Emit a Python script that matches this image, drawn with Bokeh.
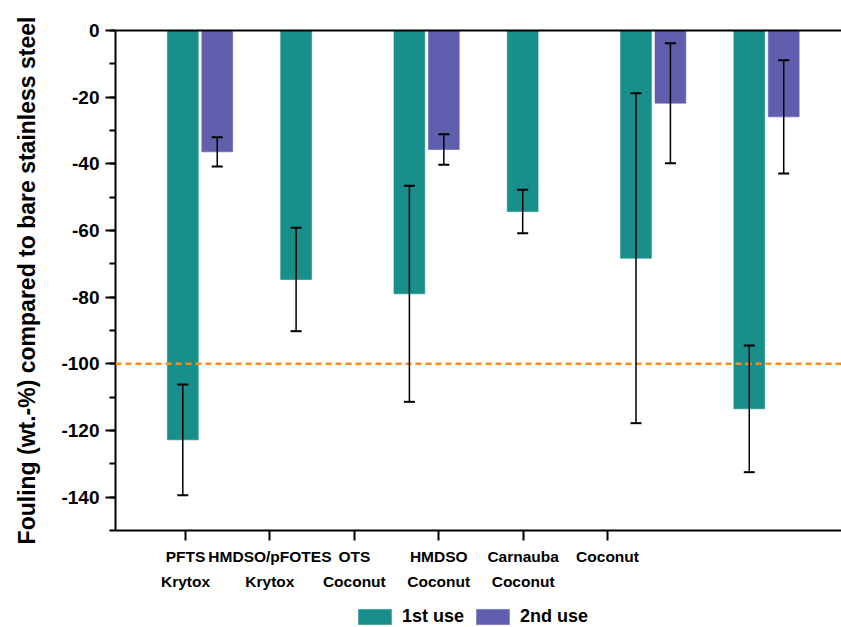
import numpy as np
from bokeh.plotting import figure
from bokeh.layouts import column
from bokeh.models import (ColumnDataSource, Whisker, TeeHead, Span, Legend, LegendItem,
                          FixedTicker, SingleIntervalTicker, LinearAxis, Range1d)
from bokeh.embed import file_html
from bokeh.resources import INLINE

# ---- data ----
categories = ["PFTS\nKrytox", "HMDSO/pFOTES\nKrytox", "OTS\nCoconut",
              "HMDSO\nCoconut", "Carnauba\nCoconut", "Coconut"]
first_use = [-122.8, -74.7, -79.0, -54.3, -68.3, -113.5]
first_err = [16.6, 15.5, 32.4, 6.5, 49.5, 19.0]
second_use = [-36.4, None, -35.7, None, -21.8, -25.9]
second_err = [4.4, None, 4.6, None, 18.0, 17.0]
reference_level = -100
y_ticks = [0, -20, -40, -60, -80, -100, -120, -140]
series_names = ["1st use", "2nd use"]

TEAL = "#188F8A"
PURPLE = "#5F5FAE"
ORANGE = "#FF8C1A"
FONT = "Liberation Sans"

n = len(categories)
groups = np.arange(1, n + 1, dtype=float)
dodge = 0.152
bar_w = 0.272

x1 = groups - dodge
y1 = np.array(first_use, dtype=float)
e1 = np.array(first_err, dtype=float)
src1 = ColumnDataSource(dict(x=x1, top=y1, upper=y1 + e1, lower=y1 - e1))

mask = [v is not None for v in second_use]
x2 = (groups + dodge)[mask]
y2 = np.array([v for v in second_use if v is not None], dtype=float)
e2 = np.array([v for v in second_err if v is not None], dtype=float)
src2 = ColumnDataSource(dict(x=x2, top=y2, upper=y2 + e2, lower=y2 - e2))

p = figure(width=841, height=600, output_backend="svg", toolbar_location=None,
           x_range=Range1d(0.254, 6.662), y_range=Range1d(-150, 0),
           min_border_left=115, min_border_top=30, min_border_bottom=70,
           min_border_right=0)
p.outline_line_color = None
p.grid.grid_line_color = None
p.background_fill_color = "white"

bar_style = [dict(fill_color=TEAL, line_color=TEAL, line_alpha=0.6),
             dict(fill_color=PURPLE, line_color=PURPLE, line_alpha=0.6)]

p.vbar(x="x", top="top", bottom=0, width=bar_w, source=src1, **bar_style[0])
p.vbar(x="x", top="top", bottom=0, width=bar_w, source=src2, **bar_style[1])

for src in (src1, src2):
    w = Whisker(base="x", upper="upper", lower="lower", source=src,
                line_color="black", line_width=1.5, level="overlay",
                upper_head=TeeHead(size=11, line_width=2, line_color="black"),
                lower_head=TeeHead(size=11, line_width=2, line_color="black"))
    p.add_layout(w)

p.add_layout(Span(location=reference_level, dimension="width", line_color=ORANGE,
                  line_width=2.5, line_dash="6 4"))

# y axis
ya = p.yaxis[0]
ya.ticker = SingleIntervalTicker(interval=20, num_minor_ticks=2)
ya.major_label_overrides = {t: str(t) for t in y_ticks}
ya.axis_label = "Fouling (wt.-%) compared to bare stainless steel"
ya.axis_label_text_font = FONT
ya.axis_label_text_font_style = "bold"
ya.axis_label_text_font_size = "23px"
ya.axis_label_text_color = "black"
ya.axis_label_standoff = 18
ya.major_label_text_font = FONT
ya.major_label_text_font_style = "bold"
ya.major_label_text_font_size = "19px"
ya.major_label_text_color = "black"
ya.major_label_standoff = 6
ya.major_tick_out = 10
ya.major_tick_in = 0
ya.minor_tick_out = 6
ya.minor_tick_in = 0
ya.axis_line_width = 2
ya.major_tick_line_width = 2
ya.minor_tick_line_width = 2

# x axis: labels at evenly spaced ticks
tick_start, tick_step = 0.872, 0.745
tick_pos = [tick_start + k * tick_step for k in range(n)]
xa = p.xaxis[0]
xa.ticker = FixedTicker(ticks=tick_pos, minor_ticks=[])
xa.major_label_overrides = {t: c for t, c in zip(tick_pos, categories)}
xa.major_label_text_font = FONT
xa.major_label_text_font_style = "bold"
xa.major_label_text_font_size = "15.5px"
xa.major_label_text_color = "black"
xa.major_label_text_line_height = 1.5
xa.major_label_standoff = 7
xa.major_tick_out = 10
xa.major_tick_in = 0
xa.axis_line_width = 2
xa.major_tick_line_width = 2

top_axis = LinearAxis(major_tick_out=0, major_tick_in=0, minor_tick_out=0, minor_tick_in=0,
                      major_label_text_font_size="0px", axis_line_width=2)
top_axis.ticker = FixedTicker(ticks=[])
p.add_layout(top_axis, "above")

# legend strip under the chart (its ranges keep the bars out of view)
lg = figure(width=841, height=27, output_backend="svg", toolbar_location=None,
            x_axis_type=None, y_axis_type=None, min_border=0,
            x_range=Range1d(100, 101), y_range=Range1d(0, 1))
lg.outline_line_color = None
lg.grid.grid_line_color = None
k1 = lg.vbar(x="x", top="top", bottom=0, width=bar_w, source=src1, **bar_style[0])
k2 = lg.vbar(x="x", top="top", bottom=0, width=bar_w, source=src2, **bar_style[1])
legend = Legend(items=[LegendItem(label=series_names[0], renderers=[k1]),
                       LegendItem(label=series_names[1], renderers=[k2])],
                orientation="horizontal", location=(239, 0),
                label_text_font=FONT, label_text_font_style="bold",
                label_text_font_size="18px", label_text_color="black",
                glyph_width=41, glyph_height=19,
                spacing=8, label_standoff=7, padding=0, margin=0,
                border_line_color=None, background_fill_alpha=0)
lg.add_layout(legend)

layout = column(p, lg, spacing=0)
open("out.html", "w").write(file_html(layout, INLINE))
